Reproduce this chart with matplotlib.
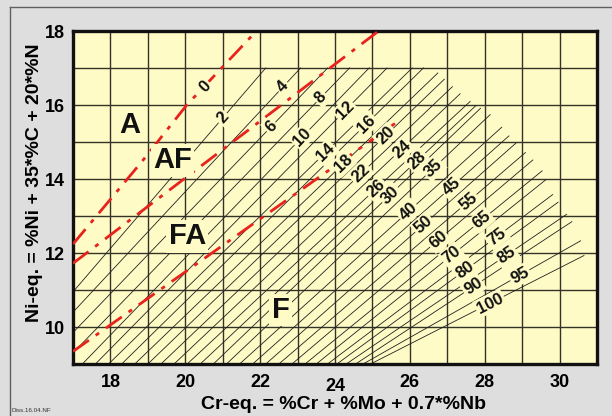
import numpy as np
import matplotlib
matplotlib.use("Agg")
import matplotlib.pyplot as plt
from matplotlib.lines import Line2D

plt.rcParams['font.family'] = ['Liberation Sans', 'DejaVu Sans']

# ---- data ----
x_ticks = [18, 20, 22, 24, 26, 28, 30]
y_ticks = [10, 12, 14, 16, 18]

# iso-ferrite-number lines: label value, label position, lower start point
fn_values = [2, 4, 6, 8, 10, 12, 14, 16, 18, 20, 22, 24, 26, 28, 30,
             35, 40, 45, 50, 55, 60, 65, 70, 75, 80, 85, 90, 95, 100]
fn_label_x = [21.00, 22.61, 22.29, 23.62, 23.12, 24.27, 23.75, 24.84, 24.22, 25.35,
              24.69, 25.78, 25.10, 26.20, 25.47, 26.63, 25.96, 27.12, 26.36, 27.56,
              26.76, 27.92, 27.12, 28.32, 27.47, 28.58, 27.69, 28.94, 28.14]
fn_label_y = [15.65, 16.49, 15.41, 16.20, 15.13, 15.85, 14.72, 15.49, 14.41, 15.17,
              14.14, 14.81, 13.74, 14.50, 13.57, 14.29, 13.12, 13.79, 12.76, 13.39,
              12.35, 12.89, 11.94, 12.44, 11.53, 11.94, 11.09, 11.40, 10.64]
fn_start_x = [17.0, 17.0, 17.0, 17.0, 17.25, 17.60, 17.95, 18.30, 18.65, 19.00,
              19.35, 19.70, 20.05, 20.40, 20.75, 21.10, 21.45, 21.80, 22.15, 22.50,
              22.85, 23.20, 23.50, 23.80, 24.05, 24.30, 24.55, 24.75, 24.95]
fn_start_y = [10.95, 10.40, 9.85, 9.30, 9.0, 9.0, 9.0, 9.0, 9.0, 9.0,
              9.0, 9.0, 9.0, 9.0, 9.0, 9.0, 9.0, 9.0, 9.0, 9.0,
              9.0, 9.0, 9.0, 9.0, 9.0, 9.0, 9.0, 9.0, 9.0]

# upper limit where the iso-FN lines end
env_x = [17.0, 26.6, 27.45, 28.2, 28.7, 29.2, 29.5, 29.8, 30.15, 30.5, 30.75]
env_y = [17.0, 17.0, 16.2, 15.7, 15.1, 14.6, 14.3, 13.6, 13.1, 12.6, 11.5]

# phase boundaries (red dash-dot)
b_af_x = [17.0, 18.84, 20.04, 21.9]
b_af_y = [12.24, 14.47, 16.0, 18.0]
b_fa_x = [17.0, 25.14]
b_fa_y = [11.72, 17.98]
b_f_x = [17.0, 25.6]
b_f_y = [9.34, 15.5]
zero_label = (20.53, 16.49)

regions = ['A', 'AF', 'FA', 'F']
region_x = [18.51, 19.66, 20.05, 22.55]
region_y = [15.47, 14.50, 12.45, 10.46]

# ---- figure ----
W, H = 612, 416
fig = plt.figure(figsize=(W / 100, H / 100), dpi=100)
fig.patch.set_facecolor('#dedede')
fig.add_artist(Line2D([10 / W, 1], [1 - 7 / H, 1 - 7 / H], color='#606060', lw=1.0,
                      transform=fig.transFigure))
fig.add_artist(Line2D([10 / W, 10 / W], [0, 1 - 7 / H], color='#606060', lw=1.0,
                      transform=fig.transFigure))

ax = fig.add_axes([73 / W, 1 - 364 / H, (597 - 73) / W, (364 - 31) / H])
bg = '#fffbc6'
ax.set_facecolor(bg)
ax.set_xlim(17, 31)
ax.set_ylim(9, 18)
ax.set_xticks(np.arange(17, 32, 1), minor=False)
ax.set_yticks(np.arange(9, 19, 1))
ax.grid(True, color='#333328', lw=1.0)
ax.set_axisbelow(True)
ax.tick_params(length=0, labelsize=13, pad=7)
ax.tick_params(axis='y', pad=6)
ax.set_xticklabels([str(v) if v in x_ticks else '' for v in range(17, 32)],
                   fontweight='bold')
ax.set_yticklabels([str(v) if v in y_ticks else '' for v in range(9, 19)],
                   fontweight='bold')
for t in ax.xaxis.get_major_ticks():
    if t.get_loc() == 24:
        t.set_pad(10)
for s in ax.spines.values():
    s.set_linewidth(2.4)
    s.set_color('#111111')

ax.set_xlabel('Cr-eq. = %Cr + %Mo + 0.7*%Nb', fontsize=14, fontweight='bold')
ax.set_ylabel('Ni-eq. = %Ni + 35*%C + 20*%N', fontsize=14, fontweight='bold')
ax.xaxis.set_label_coords(0.516, -0.097)
ax.yaxis.set_label_coords(-0.058, 0.543)

ex = np.array(env_x)
ey = np.array(env_y)
fig.canvas.draw()


def angle_of(p, q):
    a = ax.transData.transform(p)
    b = ax.transData.transform(q)
    return np.degrees(np.arctan2(b[1] - a[1], b[0] - a[0]))


label_box = dict(boxstyle='square,pad=0.1', fc=bg, ec='none')
for v, lx, ly, sx, sy in zip(fn_values, fn_label_x, fn_label_y, fn_start_x, fn_start_y):
    slope = (ly - sy) / (lx - sx)
    xs = np.linspace(sx, 31, 4000)
    ys = sy + slope * (xs - sx)
    lim = np.interp(xs, ex, ey)
    idx = np.argmax(ys >= lim) if np.any(ys >= lim) else len(xs) - 1
    x1, y1 = xs[idx], ys[idx]
    ax.plot([sx, x1], [sy, y1], color='#202020', lw=0.6, zorder=2)
    ang = angle_of((sx, sy), (x1, y1))
    ax.text(lx, ly, str(v), rotation=ang, rotation_mode='anchor', ha='center', va='center',
            fontsize=12, fontweight='bold', color='#111111', bbox=label_box, zorder=5)

red = '#e8221c'
for bx, by in [(b_af_x, b_af_y), (b_fa_x, b_fa_y), (b_f_x, b_f_y)]:
    ax.plot(bx, by, color=red, lw=2.0, dashes=(7, 3, 1.5, 3), zorder=4,
            solid_capstyle='butt', dash_capstyle='butt')

ang0 = angle_of((b_af_x[2], b_af_y[2]), (b_af_x[3], b_af_y[3]))
ax.text(zero_label[0], zero_label[1], '0', rotation=ang0, rotation_mode='anchor',
        ha='center', va='center', fontsize=12, fontweight='bold', color='#111111',
        bbox=label_box, zorder=6)

for r, rx, ry in zip(regions, region_x, region_y):
    ax.text(rx, ry, r, ha='center', va='center', fontsize=21, fontweight='bold',
            color='#111111', bbox=dict(boxstyle='square,pad=0.08', fc=bg, ec='none'),
            zorder=6)

fig.text(12 / W, 4 / H, 'Diss.16.04.NF', fontsize=4.5, color='#333333')

fig.savefig('out.png', dpi=100, facecolor=fig.get_facecolor())
